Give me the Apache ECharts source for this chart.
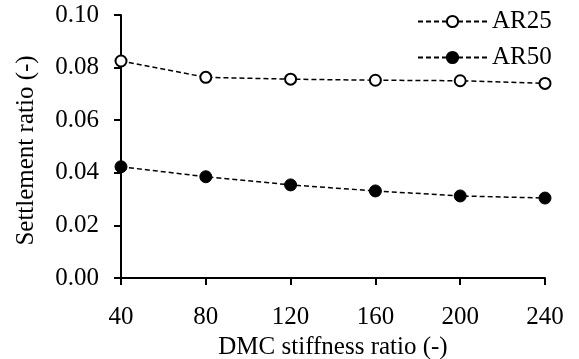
<!DOCTYPE html>
<html>
<head>
<meta charset="utf-8">
<script src="https://cdn.jsdelivr.net/npm/echarts@6/dist/echarts.min.js"></script>
<style>html,body{margin:0;padding:0;background:#fff}#c{width:579px;height:359px}</style>
</head>
<body>
<div id="c"></div>
<script>
const stiffness = [40, 80, 120, 160, 200, 240];
const ar25 = [0.0825, 0.0763, 0.0756, 0.0752, 0.0750, 0.0740];
const ar50 = [0.0423, 0.0385, 0.0354, 0.0331, 0.0312, 0.0304];
const seriesNames = ['AR25', 'AR50'];
const xTitle = 'DMC stiffness ratio (-)';
const yTitle = 'Settlement ratio (-)';

const font = '"Liberation Serif", "Times New Roman", serif';
const chart = echarts.init(document.getElementById('c'), null, {renderer: 'canvas'});
chart.setOption({
  animation: false,
  backgroundColor: '#fff',
  grid: {left: 121, right: 34, top: 15, bottom: 81, containLabel: false, outerBoundsMode: 'none'},
  legend: {
    orient: 'vertical',
    left: 412,
    top: 4,
    itemWidth: 69,
    itemHeight: 14,
    itemGap: 11,
    textStyle: {fontFamily: font, fontSize: 25, color: '#000', lineHeight: 25},
    data: seriesNames
  },
  xAxis: {
    type: 'value', min: 40, max: 240, interval: 40,
    name: xTitle, nameLocation: 'middle', nameGap: 55,
    nameTextStyle: {fontFamily: font, fontSize: 25, color: '#000'},
    axisLine: {show: true, lineStyle: {color: '#000', width: 2}},
    axisTick: {show: true, length: 7, lineStyle: {color: '#000', width: 2}},
    axisLabel: {fontFamily: font, fontSize: 25, color: '#000', margin: 27},
    splitLine: {show: false}
  },
  yAxis: {
    type: 'value', min: 0, max: 0.1, interval: 0.02,
    name: yTitle, nameLocation: 'middle', nameGap: 82,
    nameTextStyle: {fontFamily: font, fontSize: 25, color: '#000', padding: [0, 8, 0, 0]},
    axisLine: {show: true, lineStyle: {color: '#000', width: 2}},
    axisTick: {show: true, length: 7, lineStyle: {color: '#000', width: 2}},
    axisLabel: {fontFamily: font, fontSize: 25, color: '#000', margin: 22, formatter: v => v.toFixed(2)},
    splitLine: {show: false}
  },
  series: [
    {
      name: seriesNames[0], type: 'line',
      data: stiffness.map((x, i) => [x, ar25[i]]),
      symbol: 'circle', symbolSize: 11, showAllSymbol: true,
      lineStyle: {color: '#000', width: 1.5, type: [5, 3]},
      itemStyle: {color: '#fff', borderColor: '#000', borderWidth: 2}
    },
    {
      name: seriesNames[1], type: 'line',
      data: stiffness.map((x, i) => [x, ar50[i]]),
      symbol: 'circle', symbolSize: 12, showAllSymbol: true,
      lineStyle: {color: '#000', width: 1.5, type: [5, 3]},
      itemStyle: {color: '#000', borderColor: '#000', borderWidth: 1}
    }
  ]
});
</script>
</body>
</html>
